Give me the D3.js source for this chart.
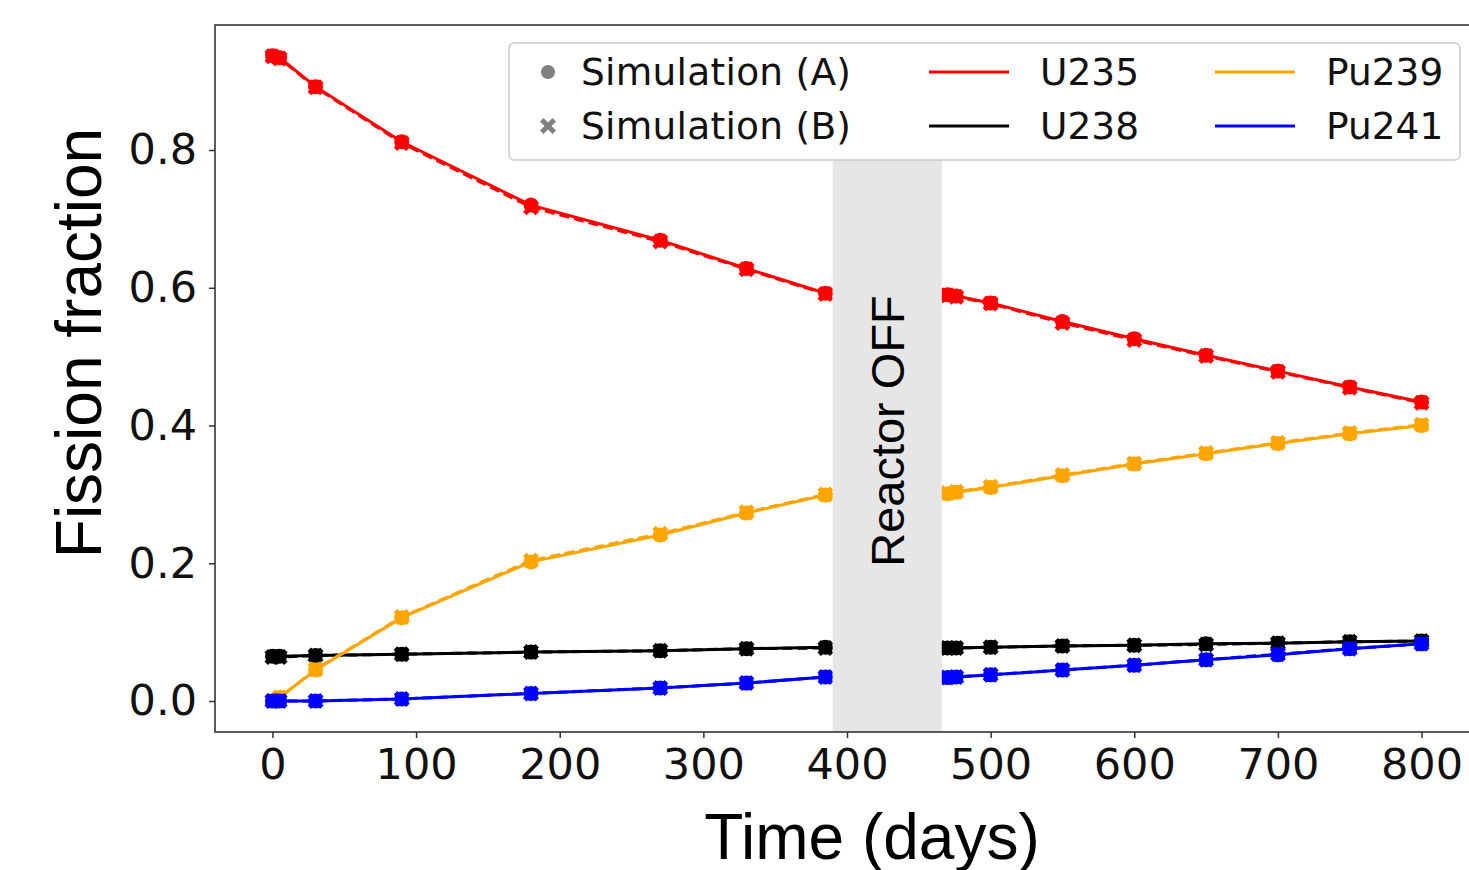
<!DOCTYPE html>
<html>
<head>
<meta charset="utf-8">
<script src="https://cdn.jsdelivr.net/npm/d3@7"></script>
<style>
  body { margin: 0; background: #fff; }
  svg { display: block; }
  .tick text { font-family: "DejaVu Sans", sans-serif; font-size: 43px; fill: #111; }
  .tick line { stroke: #333; stroke-width: 1.5; }
</style>
</head>
<body>
<svg id="chart" width="1469" height="870"></svg>
<script>
// time points (days) and fission fractions
var days = [0, 5, 30, 90, 180, 270, 330, 385, 470, 476, 500, 550, 600, 650, 700, 750, 800];

// Simulation (A)
var u235A  = [0.937, 0.934, 0.892, 0.812, 0.720, 0.669, 0.628, 0.592, 0.590, 0.588, 0.578, 0.551, 0.526, 0.502, 0.479, 0.456, 0.434];
var u238A  = [0.065, 0.065, 0.066, 0.068, 0.071, 0.073, 0.076, 0.078, 0.077, 0.077, 0.078, 0.080, 0.081, 0.083, 0.084, 0.086, 0.087];
var pu239A = [0.000, 0.005, 0.045, 0.121, 0.202, 0.241, 0.273, 0.299, 0.301, 0.303, 0.310, 0.327, 0.344, 0.359, 0.374, 0.388, 0.400];
var pu241A = [0.000, 0.000, 0.000, 0.003, 0.011, 0.019, 0.026, 0.035, 0.034, 0.035, 0.038, 0.045, 0.052, 0.060, 0.067, 0.076, 0.083];

// Simulation (B)
var u235B  = [0.936, 0.933, 0.891, 0.810, 0.717, 0.667, 0.627, 0.591, 0.589, 0.587, 0.577, 0.549, 0.524, 0.501, 0.478, 0.455, 0.433];
var u238B  = [0.064, 0.064, 0.066, 0.068, 0.071, 0.073, 0.076, 0.077, 0.077, 0.077, 0.078, 0.080, 0.081, 0.082, 0.084, 0.086, 0.087];
var pu239B = [0.000, 0.005, 0.046, 0.122, 0.204, 0.243, 0.274, 0.300, 0.302, 0.304, 0.311, 0.328, 0.345, 0.360, 0.375, 0.389, 0.401];
var pu241B = [0.000, 0.000, 0.000, 0.003, 0.011, 0.019, 0.026, 0.035, 0.034, 0.035, 0.038, 0.045, 0.052, 0.060, 0.068, 0.076, 0.083];

var xTicks = [0, 100, 200, 300, 400, 500, 600, 700, 800];
var yTicks = [0.0, 0.2, 0.4, 0.6, 0.8];
var offSpan = [390, 466];

var isotopes = [
  {name: "U235",  color: "#ff0000", a: u235A,  b: u235B},
  {name: "U238",  color: "#000000", a: u238A,  b: u238B},
  {name: "Pu239", color: "#ffa500", a: pu239A, b: pu239B},
  {name: "Pu241", color: "#0000ff", a: pu241A, b: pu241B}
];

var svg = d3.select("#chart");
var plotLeft = 215, plotTop = 25, plotRight = 1479, plotBottom = 732;

var x = d3.scaleLinear().domain([-40, 840]).range([plotLeft, plotRight]);
var y = d3.scaleLinear().domain([-0.045, 0.9815]).range([plotBottom, plotTop]);

var plot = svg.append("g");

//lines + markers for each isotope
var line = d3.line().x(function(d){ return x(d[0]); }).y(function(d){ return y(d[1]); });
var xPath = "M-8,-4.5 L-4.5,-8 L0,-3.5 L4.5,-8 L8,-4.5 L3.5,0 L8,4.5 L4.5,8 L0,3.5 L-4.5,8 L-8,4.5 L-3.5,0 Z";

isotopes.forEach(function(iso){
  var ptsA = days.map(function(t, i){ return [t, iso.a[i]]; });
  var ptsB = days.map(function(t, i){ return [t, iso.b[i]]; });

  plot.append("path").attr("d", line(ptsB))
      .attr("fill", "none").attr("stroke", iso.color)
      .attr("stroke-width", 3).attr("stroke-dasharray", "10,5");
  plot.append("path").attr("d", line(ptsA))
      .attr("fill", "none").attr("stroke", iso.color).attr("stroke-width", 3);

  plot.selectAll(null).data(ptsA).enter().append("circle")
      .attr("cx", function(d){ return x(d[0]); })
      .attr("cy", function(d){ return y(d[1]); })
      .attr("r", 7.5)
      .style("fill", iso.color);
  plot.selectAll(null).data(ptsB).enter().append("path")
      .attr("d", xPath)
      .attr("transform", function(d){ return "translate(" + x(d[0]) + "," + y(d[1]) + ")"; })
      .style("fill", iso.color);
});

//reactor off band drawn over the lines
svg.append("rect")
   .attr("x", x(offSpan[0])).attr("width", x(offSpan[1]) - x(offSpan[0]))
   .attr("y", 160).attr("height", plotBottom - 160)
   .style("fill", "#e6e6e6");

svg.append("text")
   .attr("transform", "translate(" + (x((offSpan[0] + offSpan[1]) / 2) + 17) + ",431) rotate(-90)")
   .attr("text-anchor", "middle")
   .style("font-family", "'Liberation Sans', Arial, sans-serif")
   .style("font-size", "47px")
   .text("Reactor OFF");

//frame
svg.append("rect")
   .attr("x", plotLeft).attr("y", plotTop)
   .attr("width", plotRight - plotLeft).attr("height", plotBottom - plotTop)
   .style("fill", "none").style("stroke", "#333").style("stroke-width", 1.6);

//axes
var xAxis = svg.append("g").attr("transform", "translate(0," + plotBottom + ")")
   .call(d3.axisBottom(x).tickValues(xTicks).tickSize(6).tickPadding(10).tickFormat(d3.format("d")));
xAxis.select(".domain").remove();

var yAxis = svg.append("g").attr("transform", "translate(" + plotLeft + ",0)")
   .call(d3.axisLeft(y).tickValues(yTicks).tickSize(6).tickPadding(12).tickFormat(d3.format(".1f")));
yAxis.select(".domain").remove();

//axis titles
svg.append("text")
   .attr("x", 872).attr("y", 859)
   .attr("text-anchor", "middle")
   .style("font-family", "'Liberation Sans', Arial, sans-serif")
   .style("font-size", "64px")
   .text("Time (days)");

svg.append("text")
   .attr("transform", "translate(101,343) rotate(-90)")
   .attr("text-anchor", "middle")
   .style("font-family", "'Liberation Sans', Arial, sans-serif")
   .style("font-size", "64px")
   .text("Fission fraction");

//legend
var legend = svg.append("g");
legend.append("rect")
   .attr("x", 509).attr("y", 43).attr("width", 951).attr("height", 117)
   .attr("rx", 5)
   .style("fill", "#fff").style("stroke", "#cccccc").style("stroke-width", 1.5);

var legFont = function(sel){
  sel.style("font-family", "'DejaVu Sans', sans-serif").style("font-size", "37.5px").style("fill", "#111");
};
var rowY = [72, 126];

legend.append("circle").attr("cx", 548).attr("cy", rowY[0]).attr("r", 7).style("fill", "#808080");
legend.append("path").attr("d", xPath)
   .attr("transform", "translate(548," + rowY[1] + ")").style("fill", "#808080");
legend.append("text").attr("x", 581).attr("y", rowY[0] + 13).attr("textLength", 270).text("Simulation (A)").call(legFont);
legend.append("text").attr("x", 581).attr("y", rowY[1] + 13).attr("textLength", 270).text("Simulation (B)").call(legFont);

var legendCols = [[929, 1040], [929, 1040], [1215, 1326], [1215, 1326]];
isotopes.forEach(function(iso, i){
  var yy = rowY[i % 2];
  var c = legendCols[i];
  legend.append("line")
     .attr("x1", c[0]).attr("x2", c[0] + 80).attr("y1", yy).attr("y2", yy)
     .style("stroke", iso.color).style("stroke-width", 3);
  legend.append("text").attr("x", c[1]).attr("y", yy + 13).text(iso.name).call(legFont);
});
</script>
</body>
</html>
